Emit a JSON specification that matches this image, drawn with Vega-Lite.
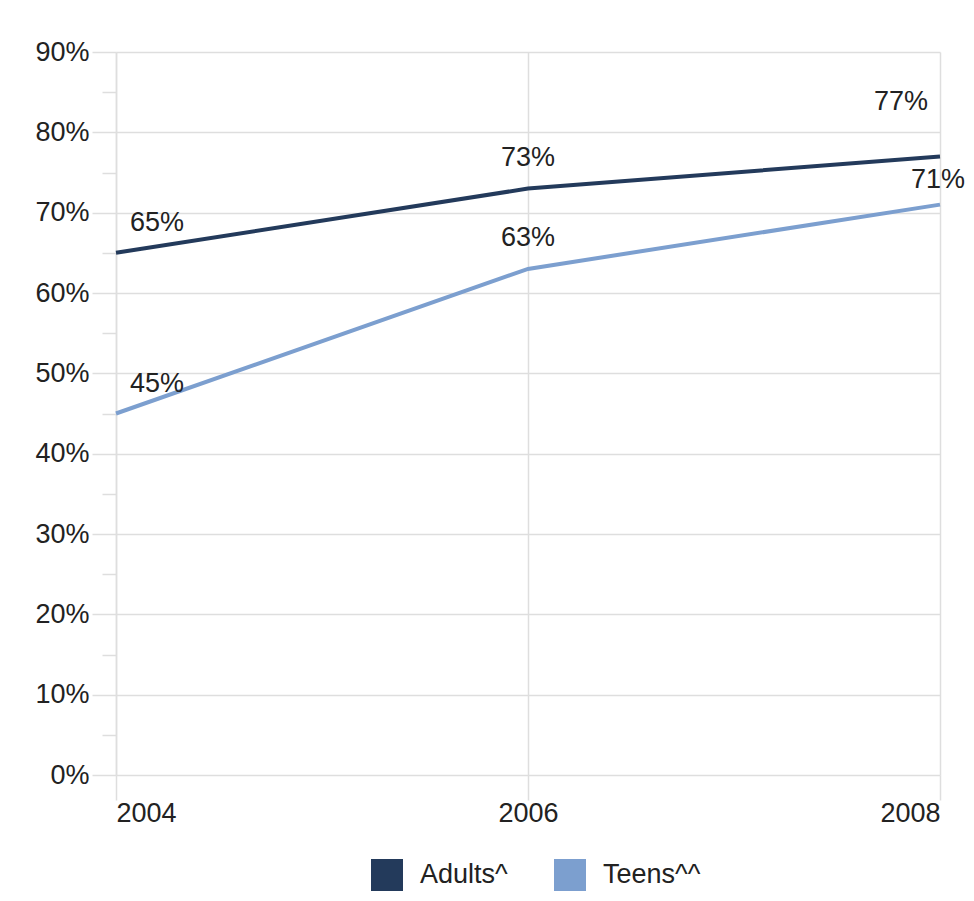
{
  "$schema": "https://vega.github.io/schema/vega-lite/v6.json",
  "width": 824,
  "height": 723,
  "autosize": {"type": "none"},
  "padding": {"left": 116, "top": 52, "right": 34, "bottom": 126},
  "background": "white",
  "config": {
    "font": "Liberation Sans",
    "view": {"stroke": null},
    "axis": {
      "labelFont": "Liberation Sans",
      "labelFontSize": 27,
      "labelColor": "#222222",
      "gridColor": "#dedede",
      "gridWidth": 1.5,
      "tickColor": "#dedede",
      "tickWidth": 1.5,
      "domainColor": "#dedede",
      "domainWidth": 1.5,
      "title": null
    }
  },
  "data": {
    "values": [
      {"year": 2004, "group": "Adults^", "share": 0.65},
      {"year": 2006, "group": "Adults^", "share": 0.73},
      {"year": 2008, "group": "Adults^", "share": 0.77},
      {"year": 2004, "group": "Teens^^", "share": 0.45},
      {"year": 2006, "group": "Teens^^", "share": 0.63},
      {"year": 2008, "group": "Teens^^", "share": 0.71}
    ]
  },
  "encoding": {
    "x": {
      "field": "year",
      "type": "quantitative",
      "scale": {"domain": [2004, 2008], "nice": false, "zero": false},
      "axis": {
        "values": [2004, 2006, 2008],
        "format": "d",
        "grid": true,
        "tickSize": 25,
        "labelPadding": 0,
        "domain": false
      }
    },
    "y": {
      "field": "share",
      "type": "quantitative",
      "scale": {"domain": [0, 0.9], "nice": false}
    }
  },
  "layer": [
    {
      "mark": {"type": "line", "strokeWidth": 4},
      "encoding": {
        "y": {
          "field": "share",
          "type": "quantitative",
          "axis": {
            "values": [0, 0.1, 0.2, 0.3, 0.4, 0.5, 0.6, 0.7, 0.8, 0.9],
            "format": ".0%",
            "grid": true,
            "tickSize": 24,
            "labelPadding": 3,
            "orient": "left"
          }
        },
        "color": {
          "field": "group",
          "type": "nominal",
          "scale": {"domain": ["Adults^", "Teens^^"], "range": ["#233a5b", "#7c9fcf"]},
          "legend": {
            "title": null,
            "orient": "none",
            "legendX": 255,
            "legendY": 807,
            "direction": "horizontal",
            "symbolType": "square",
            "symbolSize": 1024,
            "symbolStrokeWidth": 0,
            "labelFontSize": 27,
            "labelColor": "#222222",
            "labelOffset": 17,
            "columnPadding": 46,
            "padding": 0,
            "labelLimit": 300,
            "encode": {
              "symbols": {
                "update": {
                  "fill": {"scale": "color", "field": "value"},
                  "opacity": {"value": 1}
                }
              }
            }
          }
        }
      }
    },
    {
      "mark": {"type": "text", "opacity": 0},
      "encoding": {
        "y": {
          "field": "share",
          "type": "quantitative",
          "axis": {
            "values": [0.05, 0.15, 0.25, 0.35, 0.45, 0.55, 0.65, 0.75, 0.85],
            "labels": false,
            "grid": false,
            "domain": false,
            "tickSize": 14,
            "orient": "left"
          }
        },
        "text": {"value": ""}
      }
    },
    {
      "transform": [{"filter": "datum.year === 2004"}],
      "mark": {"type": "text", "fontSize": 27, "color": "#222222", "dx": 41, "dy": -30, "align": "center", "baseline": "middle"},
      "encoding": {
        "y": {"field": "share", "type": "quantitative", "axis": null},
        "text": {"field": "share", "type": "quantitative", "format": ".0%"}
      }
    },
    {
      "transform": [{"filter": "datum.year === 2006"}],
      "mark": {"type": "text", "fontSize": 27, "color": "#222222", "dx": 0, "dy": -31, "align": "center", "baseline": "middle"},
      "encoding": {
        "y": {"field": "share", "type": "quantitative", "axis": null},
        "text": {"field": "share", "type": "quantitative", "format": ".0%"}
      }
    },
    {
      "transform": [{"filter": "datum.year === 2008 && datum.group === 'Adults^'"}],
      "mark": {"type": "text", "fontSize": 27, "color": "#222222", "dx": -39, "dy": -54, "align": "center", "baseline": "middle"},
      "encoding": {
        "y": {"field": "share", "type": "quantitative", "axis": null},
        "text": {"field": "share", "type": "quantitative", "format": ".0%"}
      }
    },
    {
      "transform": [{"filter": "datum.year === 2008 && datum.group === 'Teens^^'"}],
      "mark": {"type": "text", "fontSize": 27, "color": "#222222", "dx": -2, "dy": -25, "align": "center", "baseline": "middle"},
      "encoding": {
        "y": {"field": "share", "type": "quantitative", "axis": null},
        "text": {"field": "share", "type": "quantitative", "format": ".0%"}
      }
    }
  ],
  "resolve": {"axis": {"y": "independent"}}
}
